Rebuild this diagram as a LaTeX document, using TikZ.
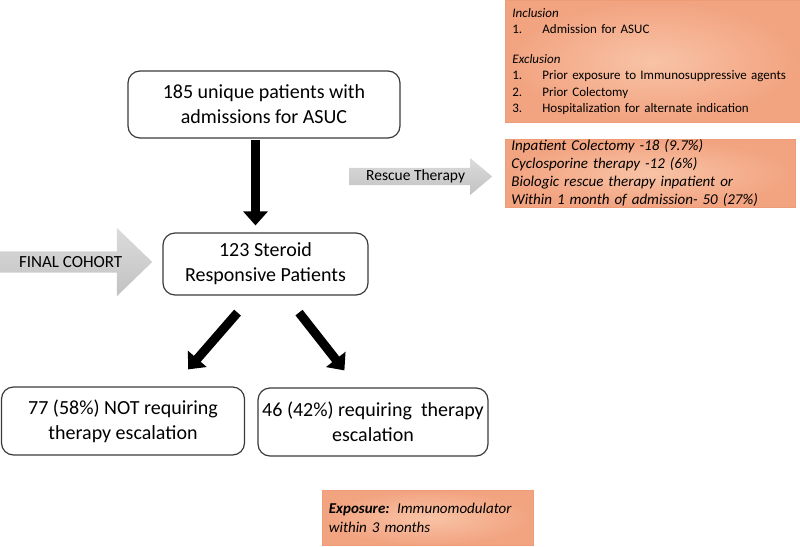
\documentclass[tikz,border=0pt]{standalone}
\usepackage{fontspec}
\setmainfont{Carlito}
\usetikzlibrary{positioning,shapes,arrows.meta,calc}
\definecolor{peachin}{HTML}{F8C3A6}
\definecolor{peachout}{HTML}{F2A380}
\definecolor{peachline}{HTML}{EE9B78}
\definecolor{boxline}{HTML}{3A3A3A}

\begin{document}
\begin{tikzpicture}
            [x=1pt,y=-1pt,
             every node/.style={font=\fontsize{20}{25}\selectfont, align=center, inner sep=0pt},
             stage/.style={draw=boxline, line width=1.2pt, rounded corners=12pt},
             note/.style={draw=peachline, line width=0.8pt, inner color=peachin, outer color=peachout, align=left, anchor=north west},
             bigarrow/.style={single arrow, top color=gray!28, bottom color=gray!48, anchor=tail},
             flow/.style={line width=9pt, -{Triangle[width=24pt,length=14pt]}}]
          \useasboundingbox (0,0) rectangle (800,546);

          \node[stage, minimum width=272pt, minimum height=67pt] (b185) at (264,104.5) {185 unique patients with\\admissions for ASUC};
          \node[stage, minimum width=205pt, minimum height=62pt] (b123) at (265.5,264) {123 Steroid\\Responsive Patients};
          \node[stage, minimum width=243pt, minimum height=68pt] (b77) at (123,421) {77 (58\%) NOT requiring\\therapy escalation};
          \node[stage, minimum width=230pt, minimum height=68pt] (b46) at (373,422) {46 (42\%) requiring~ therapy\\escalation};

          \node[note, minimum width=295pt, minimum height=122pt, text width=281pt, font=\fontsize{13}{16.5}\selectfont] (criteria) at (505,0)
            {\textit{Inclusion}\\
             \makebox[30pt][l]{1.}Admission for ASUC\\[13pt]
             \textit{Exclusion}\\
             \makebox[30pt][l]{1.}Prior exposure to Immunosuppressive agents\\
             \makebox[30pt][l]{2.}Prior Colectomy\\
             \makebox[30pt][l]{3.}Hospitalization for alternate indication};
          \node[note, minimum width=290pt, minimum height=68pt, text width=278pt, font=\fontsize{15}{18}\selectfont\itshape] (rescue) at (505,139)
            {Inpatient Colectomy -18 (9.7\%)\\
             Cyclosporine therapy -12 (6\%)\\
             Biologic rescue therapy inpatient or\\
             Within 1 month of admission- 50 (27\%)};
          \node[note, minimum width=211pt, minimum height=55pt, text width=198pt, font=\fontsize{15}{19}\selectfont\itshape] (exposure) at (322,490)
            {\textbf{Exposure:} Immunomodulator\\within 3 months};

          \node[bigarrow, minimum width=68pt, minimum height=152pt, single arrow head extend=12.5pt, single arrow tip angle=88, font=\fontsize{17}{20}\selectfont] (final) at (0,262) {FINAL COHORT};
          \node[bigarrow, minimum width=37pt, minimum height=143pt, single arrow head extend=8pt, single arrow tip angle=80, font=\fontsize{15.5}{18}\selectfont] (rescuearrow) at (349,176.5) {Rescue Therapy};

          \draw[flow] ($(b185.south)+(-8.5,1)$) -- ($(b123.north)+(-10,-7)$);
          \draw[flow] ($(b123.south)+(-28,17)$) -- ($(b77.north east)+(-57,-17)$);
          \draw[flow] ($(b123.south)+(33.5,17)$) -- ($(b46.north west)+(87,-17)$);
        \end{tikzpicture}
\end{document}
